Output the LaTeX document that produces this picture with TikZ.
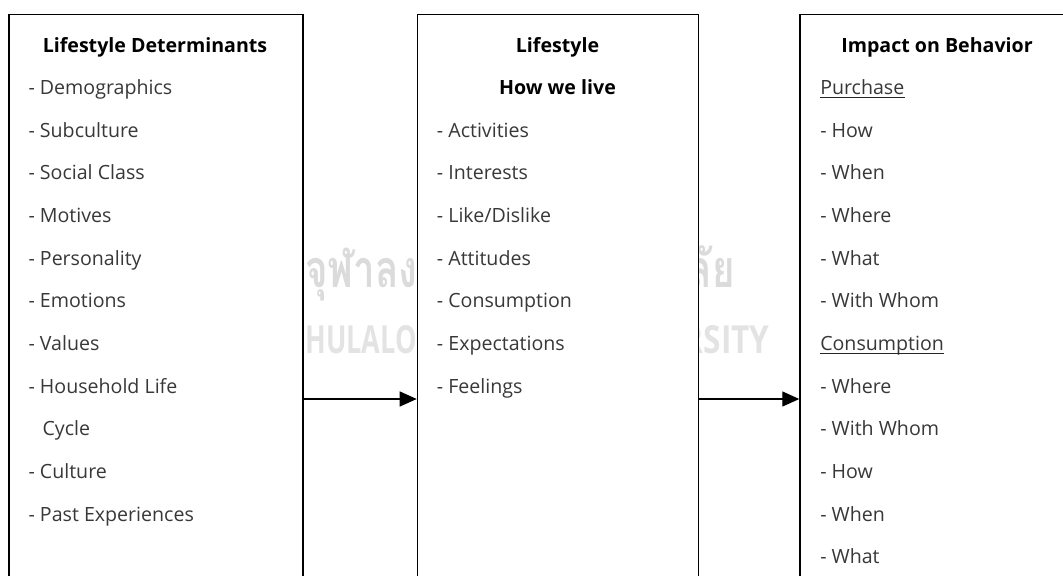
\documentclass[tikz,border=0pt]{standalone}
\usepackage{fontspec}
\setmainfont{Open Sans}
\newfontfamily\thaifont[Script=Thai]{Loma}
\usetikzlibrary{arrows.meta}
\tikzset{
  boxnode/.style={draw, fill=white, line width=1pt, anchor=north west, inner sep=0pt, minimum height=480pt},
  item/.style={anchor=base west, inner sep=0pt, text=black!78, font=\fontsize{14.7pt}{17pt}\selectfont},
  ttl/.style={anchor=base, inner sep=0pt, text=black, font=\fontsize{14.7pt}{17pt}\selectfont\bfseries},
  link/.style={line width=0.9pt, -{Triangle[length=12.75pt, width=11.25pt]}},
  ul/.style={line width=0.7pt, black!85},
  wmth/.style={inner sep=0pt, anchor=base east, text=black!14, font=\fontsize{39pt}{41pt}\selectfont\thaifont\bfseries},
  wmen/.style={inner sep=0pt, anchor=base east, text=black!11, font=\fontsize{29pt}{31pt}\selectfont\bfseries}
}
\begin{document}
\begin{tikzpicture}[x=0.75pt, y=-0.75pt]
\useasboundingbox (0,0) rectangle (1063,575);
\clip (0,0) rectangle (1063,575);
% faint watermark text (partly hidden behind the boxes)
\node[wmth] (wt1) at (418,287) {\scalebox{0.74}[1]{จุฬาลง}};
\node[wmth] (wt2) at (735,287) {\scalebox{0.74}[1]{ลัย}};
\node[wmen] (we1) at (417,353) {\scalebox{0.7}[1]{CHULALO}};
\node[wmen] (we2) at (770,353) {\scalebox{0.82}[1]{RSITY}};
% boxes
\node[boxnode, minimum width=220.5pt] (L) at (8.3,14) {};
\node[boxnode, minimum width=210.75pt] (M) at (416.7,14) {};
\node[boxnode, minimum width=240pt] (R) at (799.3,14) {};
% left column
\node[ttl] (l0) at (155,52) {Lifestyle Determinants};
\node[item] (l1) at (28.3,94.65) {- Demographics};
\node[item] (l2) at (28.3,137.3) {- Subculture};
\node[item] (l3) at (28.3,179.95) {- Social Class};
\node[item] (l4) at (28.3,222.6) {- Motives};
\node[item] (l5) at (28.3,265.25) {- Personality};
\node[item] (l6) at (28.3,307.9) {- Emotions};
\node[item] (l7) at (28.3,350.55) {- Values};
\node[item] (l8) at (28.3,393.2) {- Household Life};
\node[item] (l9) at (42.3,435.85) {Cycle};
\node[item] (l10) at (28.3,478.5) {- Culture};
\node[item] (l11) at (28.3,521.15) {- Past Experiences};
% middle column
\node[ttl] (m0) at (557.5,52) {Lifestyle};
\node[ttl] (m1) at (557.5,94.65) {How we live};
\node[item] (m2) at (436.7,137.3) {- Activities};
\node[item] (m3) at (436.7,179.95) {- Interests};
\node[item] (m4) at (436.7,222.6) {- Like/Dislike};
\node[item] (m5) at (436.7,265.25) {- Attitudes};
\node[item] (m6) at (436.7,307.9) {- Consumption};
\node[item] (m7) at (436.7,350.55) {- Expectations};
\node[item] (m8) at (436.7,393.2) {- Feelings};
% right column
\node[ttl] (r0) at (937,52) {Impact on Behavior};
\node[item] (r1) at (820,94.65) {Purchase};
\node[item] (r2) at (820,137.3) {- How};
\node[item] (r3) at (820,179.95) {- When};
\node[item] (r4) at (820,222.6) {- Where};
\node[item] (r5) at (820,265.25) {- What};
\node[item] (r6) at (820,307.9) {- With Whom};
\node[item] (r7) at (820,350.55) {Consumption};
\node[item] (r8) at (820,393.2) {- Where};
\node[item] (r9) at (820,435.85) {- With Whom};
\node[item] (r10) at (820,478.5) {- How};
\node[item] (r11) at (820,521.15) {- When};
\node[item] (r12) at (820,563.8) {- What};
\draw[ul] ([yshift=-2.2pt]r1.base west) -- ([yshift=-2.2pt]r1.base east);
\draw[ul] ([yshift=-2.2pt]r7.base west) -- ([yshift=-2.2pt]r7.base east);
% connectors
\coordinate (ay) at (0,399);
\draw[link] (L.east |- ay) -- (M.west |- ay);
\draw[link] (M.east |- ay) -- (R.west |- ay);
\end{tikzpicture}
\end{document}
